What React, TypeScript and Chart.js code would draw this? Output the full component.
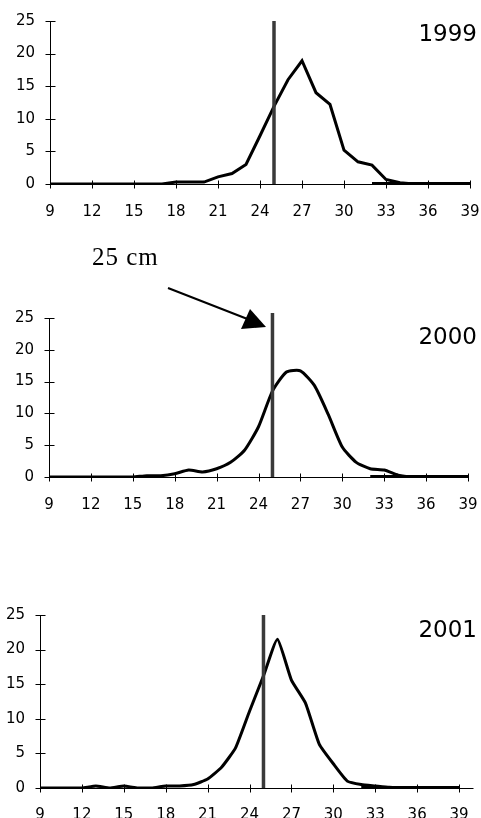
import React, { useEffect, useRef } from "react";
import { Chart, registerables } from "chart.js";
Chart.register(...registerables);

// Length classes (cm)
const lengths = [9, 10, 11, 12, 13, 14, 15, 16, 17, 18, 19, 20, 21, 22, 23, 24, 25, 26, 27, 28, 29, 30, 31, 32, 33, 34, 35, 36, 37, 38, 39];

// Percent frequency per length class
const values1999 = [0, 0, 0, 0, 0, 0, 0, 0, 0, 0.3, 0.3, 0.3, 1.1, 1.6, 3.0, 7.4, 11.9, 16.0, 18.9, 14.0, 12.2, 5.2, 3.4, 2.9, 0.7, 0.2, 0, 0, 0, 0, 0];
const values2000 = [0, 0, 0, 0, 0, 0, 0, 0.2, 0.2, 0.5, 1.1, 0.8, 1.3, 2.3, 4.2, 7.9, 13.5, 16.5, 16.7, 14.4, 9.8, 4.7, 2.3, 1.3, 1.1, 0.3, 0, 0, 0, 0, 0];
const values2001 = [0, 0, 0, 0, 0.3, 0, 0.3, 0, 0, 0.3, 0.3, 0.5, 1.3, 3.0, 5.8, 11.1, 16.2, 21.5, 15.6, 12.3, 6.3, 3.5, 1.0, 0.5, 0.3, 0.1, 0, 0, 0, 0, 0];

// Zero tail segment (32–39 cm)
const tailLengths = [32, 33, 34, 35, 36, 37, 38, 39];
const tailValues = [0, 0, 0, 0, 0, 0, 0, 0];

// Minimum legal size marker
const markerLength = 25;

// Tick labels
const xTicks = [9, 12, 15, 18, 21, 24, 27, 30, 33, 36, 39];
const yTicks = [0, 5, 10, 15, 20, 25];

const years = ["1999", "2000", "2001"];

const crossAxes = {
  id: "crossAxes",
  beforeDatasetsDraw(chart: any) {
    const { ctx } = chart;
    const x = chart.scales.x;
    const y = chart.scales.y;
    const y0 = Math.round(y.getPixelForValue(0)) + 0.5;
    const yTop = Math.round(y.getPixelForValue(25)) + 0.5;
    const xL = Math.round(x.getPixelForValue(x.min)) + 0.5;
    const xR = Math.round(x.getPixelForValue(x.max)) + 0.5;
    ctx.save();
    ctx.strokeStyle = "#000";
    ctx.lineWidth = 1;
    ctx.beginPath();
    ctx.moveTo(xL, y0);
    ctx.lineTo(xR, y0);
    ctx.moveTo(xL, yTop);
    ctx.lineTo(xL, y0);
    x.ticks.forEach((t: any) => {
      const px = Math.round(x.getPixelForValue(t.value)) + 0.5;
      ctx.moveTo(px, y0 - 4);
      ctx.lineTo(px, y0 + 4);
    });
    y.ticks.forEach((t: any) => {
      const py = Math.round(y.getPixelForValue(t.value)) + 0.5;
      ctx.moveTo(xL - 5, py);
      ctx.lineTo(xL + 5, py);
    });
    ctx.stroke();
    ctx.restore();
  },
};

type PanelProps = {
  top: number;
  height: number;
  values: number[];
  tension: number;
  axisWidth: number;
  axisHeight: number;
  padTop: number;
  padRight: number;
  xMax: number;
  markerTop: number;
  xPad: number;
};

function Panel(p: PanelProps) {
  const ref = useRef<HTMLCanvasElement>(null);
  useEffect(() => {
    if (!ref.current) return;
    const font = { family: "'DejaVu Sans', sans-serif", size: 15 };
    const chart = new Chart(ref.current, {
      type: "line",
      data: {
        datasets: [
          {
            data: [
              { x: markerLength, y: 0 },
              { x: markerLength, y: p.markerTop },
            ],
            borderColor: "#3a3a3a",
            borderWidth: 3.5,
            pointRadius: 0,
            clip: false as any,
            order: 0,
          },
          {
            data: lengths.map((l, i) => ({ x: l, y: p.values[i] })),
            borderColor: "#000",
            borderWidth: 3,
            pointRadius: 0,
            tension: p.tension,
            order: 2,
          },
          {
            data: tailLengths.map((l, i) => ({ x: l, y: tailValues[i] })),
            borderColor: "#000",
            borderWidth: 4,
            pointRadius: 0,
            order: 1,
          },
        ],
      },
      options: {
        animation: false,
        responsive: false,
        events: [],
        layout: { padding: { top: p.padTop, right: p.padRight, left: 0, bottom: 0 } },
        plugins: { legend: { display: false }, tooltip: { enabled: false } },
        scales: {
          x: {
            type: "linear",
            min: 9,
            max: p.xMax,
            grid: { display: false, drawTicks: false },
            border: { display: false },
            afterBuildTicks: (s: any) => {
              s.ticks = xTicks.map((v) => ({ value: v }));
            },
            afterFit: (s: any) => {
              s.height = p.axisHeight;
              s.paddingLeft = 0;
              s.paddingRight = 0;
            },
            ticks: { color: "#000", font, padding: p.xPad, maxRotation: 0, autoSkip: false },
          },
          y: {
            min: 0,
            max: 25,
            grid: { display: false, drawTicks: false },
            border: { display: false },
            afterBuildTicks: (s: any) => {
              s.ticks = yTicks.map((v) => ({ value: v }));
            },
            afterFit: (s: any) => {
              s.width = p.axisWidth;
              s.paddingTop = 0;
              s.paddingBottom = 0;
            },
            ticks: { color: "#000", font, padding: 15 },
          },
        },
      },
      plugins: [crossAxes],
    });
    return () => chart.destroy();
  }, []);
  return (
    <canvas
      ref={ref}
      width={481}
      height={p.height}
      style={{ position: "absolute", left: 0, top: p.top, display: "block" }}
    />
  );
}

const titleStyle: React.CSSProperties = {
  position: "absolute",
  left: 0,
  width: 477,
  textAlign: "right",
  fontFamily: "'DejaVu Sans', sans-serif",
  fontSize: 23,
  lineHeight: "24px",
  color: "#000",
};

export default function App() {
  return (
    <div style={{ position: "absolute", left: 0, top: 0, width: 481, height: 818, overflow: "hidden", background: "#fff" }}>
      <Panel top={0} height={230} values={values1999} tension={0} axisWidth={50} axisHeight={46} padTop={21} padRight={11} xMax={39} markerTop={25} xPad={19} />
      <Panel top={230} height={290} values={values2000} tension={0.2} axisWidth={49} axisHeight={43} padTop={88} padRight={13} xMax={39} markerTop={25.8} xPad={19} />
      <Panel top={560} height={258} values={values2001} tension={0.15} axisWidth={40} axisHeight={30} padTop={55} padRight={8} xMax={40} markerTop={25} xPad={18} />
      <div style={{ ...titleStyle, top: 21 }}>{years[0]}</div>
      <div style={{ ...titleStyle, top: 324 }}>{years[1]}</div>
      <div style={{ ...titleStyle, top: 617 }}>{years[2]}</div>
      <div
        style={{
          position: "absolute",
          left: 92,
          top: 244,
          fontFamily: "'Liberation Serif', 'Times New Roman', serif",
          fontSize: 25,
          lineHeight: "25px",
          letterSpacing: 1,
          color: "#000",
          whiteSpace: "nowrap",
        }}
      >
        25 cm
      </div>
      <svg width={481} height={818} style={{ position: "absolute", left: 0, top: 0, pointerEvents: "none" }}>
        <line x1={168} y1={288} x2={250} y2={320} stroke="#000" strokeWidth={2} />
        <polygon points="266,327 241,329 250,309" fill="#000" />
      </svg>
    </div>
  );
}
